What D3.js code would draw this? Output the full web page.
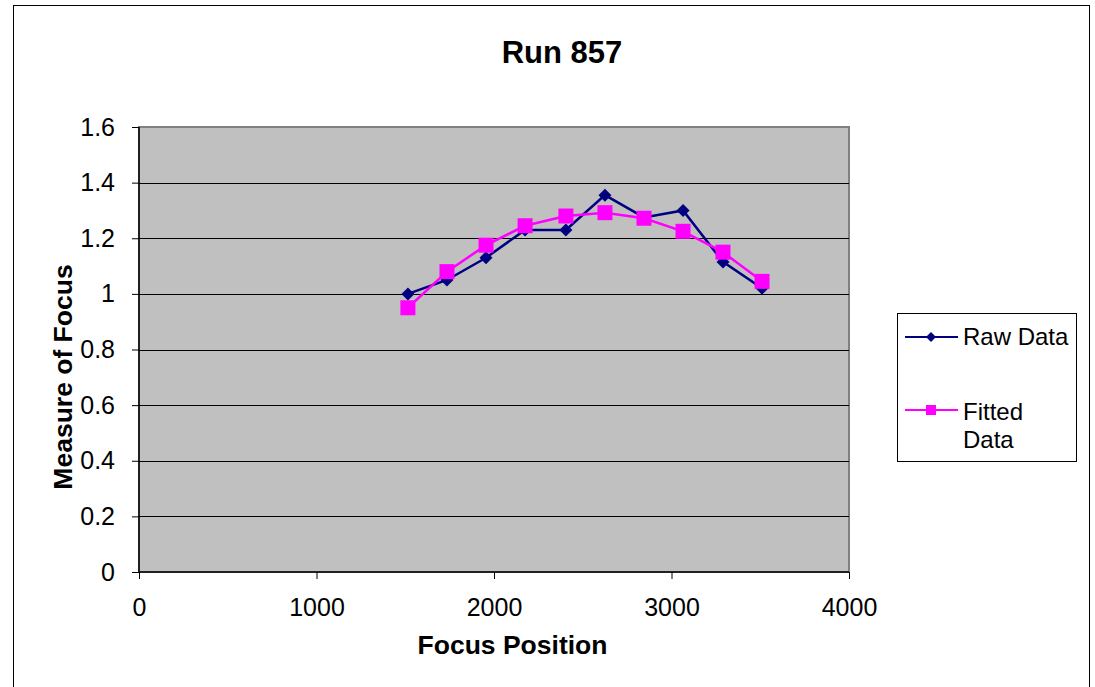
<!DOCTYPE html>
<html>
<head>
<meta charset="utf-8">
<script src="https://cdn.jsdelivr.net/npm/d3@7"></script>
<style>
	body { margin: 0; background: #fff; }
	svg { display: block; font-family: "Liberation Sans", Arial, sans-serif; }
</style>
</head>
<body>
<div id="chart"></div>
<script>
// data
const focusPosition = [1515, 1735, 1955, 2175, 2405, 2625, 2845, 3065, 3290, 3510];
const rawData = [1.00, 1.05, 1.13, 1.23, 1.23, 1.355, 1.275, 1.30, 1.115, 1.02];
const fittedData = [0.95, 1.08, 1.175, 1.245, 1.28, 1.292, 1.272, 1.225, 1.15, 1.045];
const xTicks = [0, 1000, 2000, 3000, 4000];
const yTicks = [0, 0.2, 0.4, 0.6, 0.8, 1, 1.2, 1.4, 1.6];

const width = 1095, height = 687;
const plot = { left: 139, right: 849, top: 127, bottom: 572 };

const svg = d3.select("#chart").append("svg")
	.attr("width", width)
	.attr("height", height);

// outer chart border
svg.append("rect")
	.attr("x", 13.5).attr("y", 5.5)
	.attr("width", 1076).attr("height", 700)
	.style("fill", "#fff").style("stroke", "#000").style("stroke-width", 1);

const x = d3.scaleLinear().domain([0, 4000]).range([plot.left, plot.right]);
const y = d3.scaleLinear().domain([0, 1.6]).range([plot.bottom, plot.top]);

// plot area
svg.append("rect")
	.attr("x", plot.left).attr("y", plot.top)
	.attr("width", plot.right - plot.left).attr("height", plot.bottom - plot.top)
	.style("fill", "#C0C0C0").style("stroke", "#808080").style("stroke-width", 2);

// gridlines
svg.append("g").selectAll("line")
	.data(yTicks.filter(d => d > 0 && d < 1.6))
	.enter().append("line")
	.attr("x1", plot.left).attr("x2", plot.right)
	.attr("y1", d => Math.round(y(d)) + 0.5).attr("y2", d => Math.round(y(d)) + 0.5)
	.style("stroke", "#000").style("stroke-width", 1);

// y axis
const yAxis = svg.append("g")
	.attr("transform", "translate(" + plot.left + ",0)")
	.call(d3.axisLeft(y).tickValues(yTicks).tickSize(7).tickPadding(17)
		.tickFormat(d => String(+d.toFixed(1))));
yAxis.select(".domain").attr("d", "M0," + plot.top + "V" + plot.bottom).style("stroke", "#000").style("stroke-width", 1.5);
yAxis.selectAll(".tick line").style("stroke", "#000");
yAxis.selectAll("text").style("font-size", "25px").style("fill", "#000");

// x axis
const xAxis = svg.append("g")
	.attr("transform", "translate(0," + plot.bottom + ")")
	.call(d3.axisBottom(x).tickValues(xTicks).tickSize(7).tickPadding(19)
		.tickFormat(d3.format("d")));
xAxis.select(".domain").attr("d", "M" + plot.left + ",0H" + plot.right).style("stroke", "#000").style("stroke-width", 1.5);
xAxis.selectAll(".tick line").style("stroke", "#000");
xAxis.selectAll("text").style("font-size", "25px").style("fill", "#000");

// titles
svg.append("text")
	.attr("x", 562).attr("y", 63)
	.attr("text-anchor", "middle")
	.style("font-size", "31px").style("font-weight", "bold")
	.text("Run 857");

svg.append("text")
	.attr("x", 512.5).attr("y", 654)
	.attr("text-anchor", "middle")
	.style("font-size", "26.5px").style("font-weight", "bold")
	.text("Focus Position");

svg.append("text")
	.attr("transform", "translate(72,377) rotate(-90)")
	.attr("text-anchor", "middle")
	.style("font-size", "26.5px").style("font-weight", "bold")
	.text("Measure of Focus");

// series
const rawPoints = focusPosition.map((p, i) => ({ x: p, y: rawData[i] }));
const fitPoints = focusPosition.map((p, i) => ({ x: p, y: fittedData[i] }));

const line = d3.line().x(d => x(d.x)).y(d => y(d.y));
const diamond = r => "M0," + (-r) + "L" + r + ",0L0," + r + "L" + (-r) + ",0Z";

svg.append("path")
	.datum(rawPoints)
	.attr("d", line)
	.style("fill", "none").style("stroke", "#000080").style("stroke-width", 2.5);
svg.append("g").selectAll("path")
	.data(rawPoints)
	.enter().append("path")
	.attr("d", diamond(6.5))
	.attr("transform", d => "translate(" + x(d.x) + "," + y(d.y) + ")")
	.style("fill", "#000080");

svg.append("path")
	.datum(fitPoints)
	.attr("d", line)
	.style("fill", "none").style("stroke", "#FF00FF").style("stroke-width", 2.5);
svg.append("g").selectAll("rect")
	.data(fitPoints)
	.enter().append("rect")
	.attr("x", d => x(d.x) - 7.5).attr("y", d => y(d.y) - 7.5)
	.attr("width", 15).attr("height", 15)
	.style("fill", "#FF00FF");

// legend
const legend = svg.append("g");
legend.append("rect")
	.attr("x", 897.5).attr("y", 313.5)
	.attr("width", 179).attr("height", 148)
	.style("fill", "#fff").style("stroke", "#000").style("stroke-width", 1);

legend.append("line")
	.attr("x1", 905).attr("x2", 958).attr("y1", 337).attr("y2", 337)
	.style("stroke", "#000080").style("stroke-width", 2);
legend.append("path")
	.attr("d", diamond(5))
	.attr("transform", "translate(931,337)")
	.style("fill", "#000080");
legend.append("text")
	.attr("x", 963).attr("y", 345)
	.style("font-size", "24px")
	.text("Raw Data");

legend.append("line")
	.attr("x1", 905).attr("x2", 958).attr("y1", 410).attr("y2", 410)
	.style("stroke", "#FF00FF").style("stroke-width", 2);
legend.append("rect")
	.attr("x", 926).attr("y", 405).attr("width", 10).attr("height", 10)
	.style("fill", "#FF00FF");
legend.append("text")
	.attr("x", 963).attr("y", 420)
	.style("font-size", "24px")
	.text("Fitted");
legend.append("text")
	.attr("x", 963).attr("y", 448)
	.style("font-size", "24px")
	.text("Data");
</script>
</body>
</html>
